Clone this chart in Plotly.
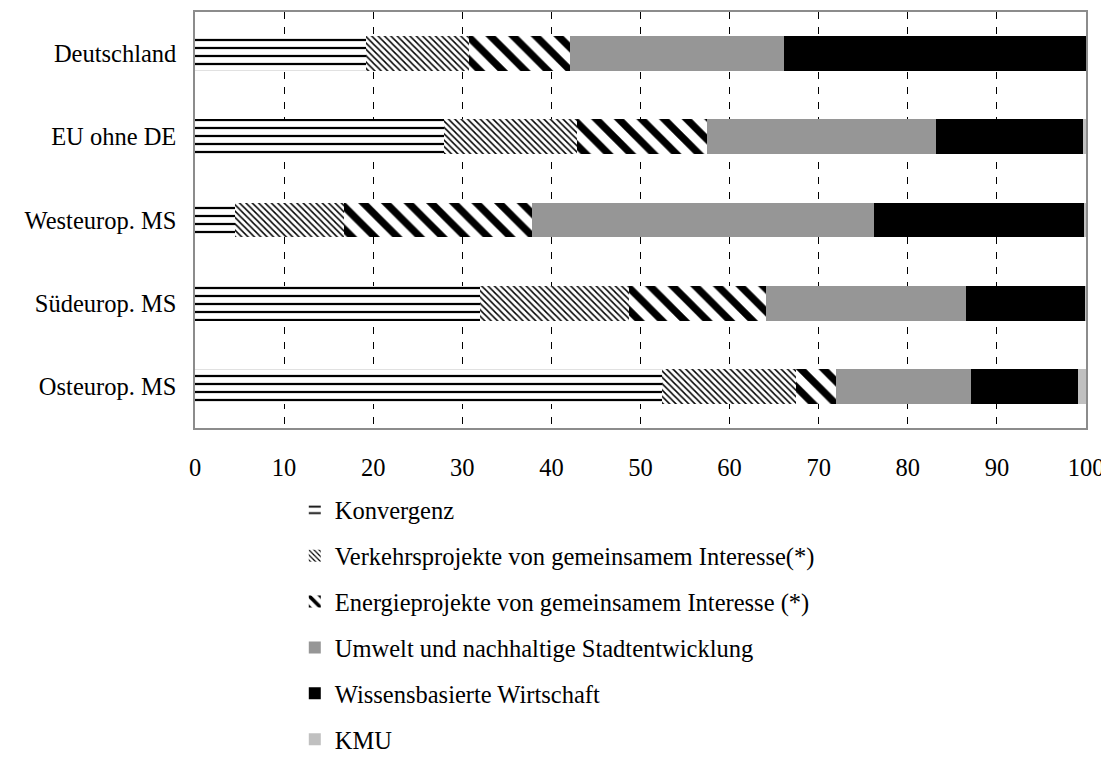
import plotly.graph_objects as go

categories = ["Deutschland", "EU ohne DE", "Westeurop. MS", "Südeurop. MS", "Osteurop. MS"]
series_names = [
    "Konvergenz",
    "Verkehrsprojekte von gemeinsamem Interesse(*)",
    "Energieprojekte von gemeinsamem Interesse (*)",
    "Umwelt und nachhaltige Stadtentwicklung",
    "Wissensbasierte Wirtschaft",
    "KMU",
]
konvergenz = [19.2, 28.0, 4.5, 32.0, 52.4]
verkehr = [11.5, 14.9, 12.2, 16.7, 15.0]
energie = [11.4, 14.6, 21.1, 15.4, 4.5]
umwelt = [24.0, 25.7, 38.4, 22.4, 15.2]
wissen = [33.9, 16.5, 23.6, 13.4, 12.0]
kmu = [0.0, 0.3, 0.2, 0.1, 0.9]
x_ticks = [0, 10, 20, 30, 40, 50, 60, 70, 80, 90, 100]

values = [konvergenz, verkehr, energie, umwelt, wissen, kmu]
styles = [
    dict(color="white", pattern=dict(shape="-", fgcolor="black", bgcolor="white", fgopacity=1, size=8, solidity=0.28)),
    dict(color="white", pattern=dict(shape="\\", fgcolor="black", bgcolor="white", fgopacity=1, size=4.5, solidity=0.33)),
    dict(color="white", pattern=dict(shape="\\", fgcolor="black", bgcolor="white", fgopacity=1, size=16, solidity=0.45)),
    dict(color="#969696"),
    dict(color="#000000"),
    dict(color="#c0c0c0"),
]

FONT = "Liberation Serif"
FS = 24.5
fig = go.Figure()
for i, (name, vals, st) in enumerate(zip(series_names, values, styles)):
    fig.add_trace(go.Bar(
        y=categories, x=vals, name=name, orientation="h",
        marker=dict(line=dict(width=0), **st),
        legendgroup=f"g{i}",
    ))

fig.update_layout(
    barmode="stack",
    bargap=0.58,
    width=1101, height=753,
    paper_bgcolor="white", plot_bgcolor="white",
    margin=dict(l=187, r=23, t=4, b=333, autoexpand=False),
    font=dict(family=FONT, size=FS, color="black"),
    legend=dict(
        x=0.112, xanchor="left", y=-0.143, yanchor="top",
        traceorder="grouped", tracegroupgap=11,
        font=dict(family=FONT, size=FS, color="black"),
        itemwidth=30,
    ),
    showlegend=True,
)
fig.update_xaxes(
    range=[0, 100], tickvals=x_ticks, ticktext=[str(t) for t in x_ticks],
    showgrid=True, gridcolor="black", gridwidth=1, griddash="7px,8px",
    showline=True, linecolor="#8c8c8c", linewidth=1.5, mirror=True,
    zeroline=False, ticks="", ticklabelstandoff=17,
)
fig.update_yaxes(
    categoryorder="array", categoryarray=categories, autorange="reversed",
    showline=True, linecolor="#8c8c8c", linewidth=1.5, mirror=True,
    showgrid=False, ticks="", ticklabelstandoff=12,
)
fig.write_html("out.html")
